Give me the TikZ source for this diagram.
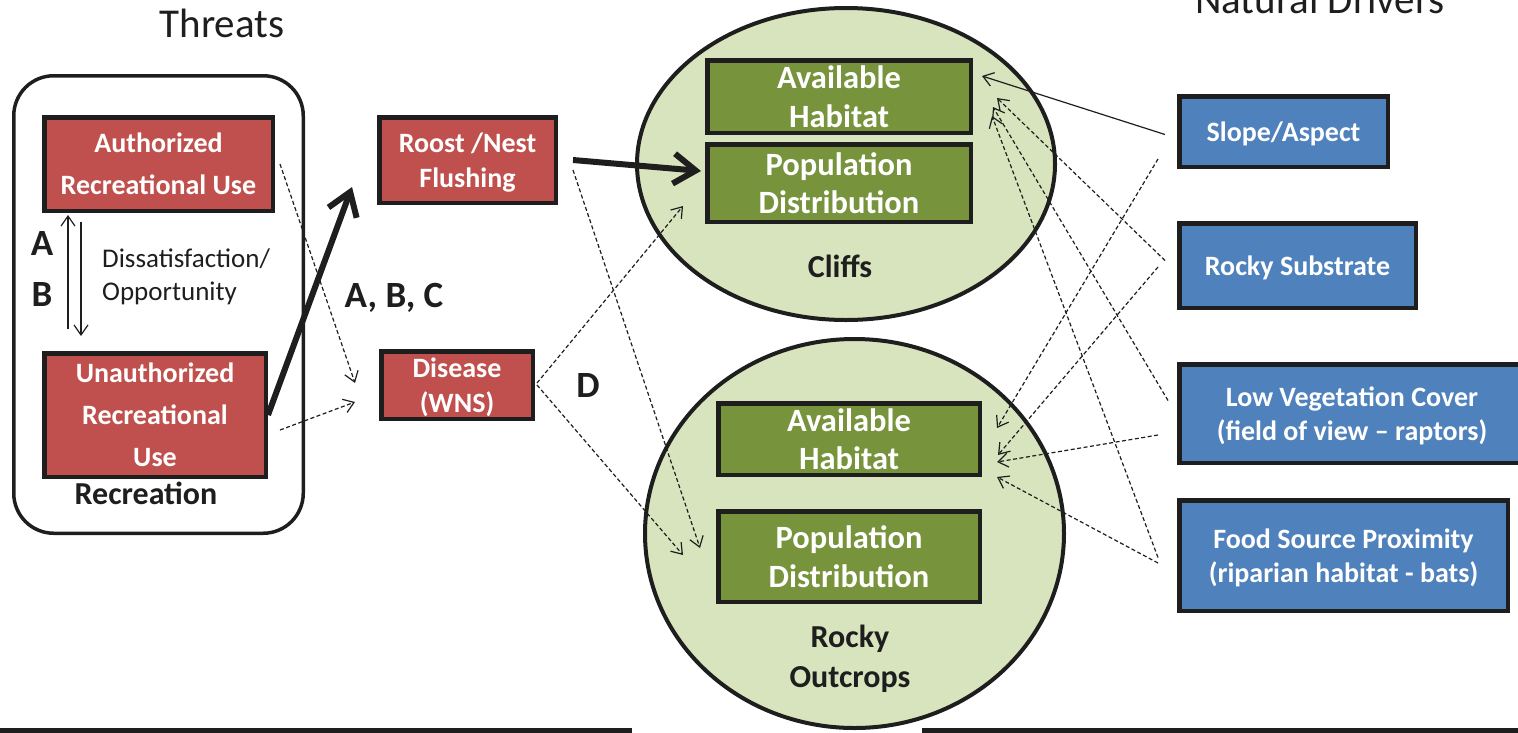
\documentclass[tikz,border=0pt]{standalone}
\usepackage{fontspec}
\setmainfont{Carlito}
\usetikzlibrary{arrows.meta,calc,shapes.geometric}
\definecolor{redbox}{HTML}{C0504D}
\definecolor{greenbox}{HTML}{77933C}
\definecolor{bluebox}{HTML}{4F81BD}
\definecolor{ellfill}{HTML}{D7E4BD}
\definecolor{edge}{HTML}{1E1E1E}
\begin{document}
\begin{tikzpicture}[x=1pt,y=-1pt,
  basebox/.style={draw=edge, line width=4.5pt, inner sep=0pt, align=center, text=white},
  rbox/.style={basebox, fill=redbox, text depth=-3pt, font=\bfseries\fontsize{28}{35}\selectfont},
  gbox/.style={basebox, fill=greenbox, font=\bfseries\fontsize{32.5}{38.5}\selectfont},
  bbox/.style={basebox, fill=bluebox, text depth=-3pt, font=\bfseries\fontsize{28}{34}\selectfont},
  ell/.style={ellipse, draw=edge, fill=ellfill, line width=4pt, inner sep=0pt},
  lbl/.style={inner sep=0pt, text=edge, align=center, font=\bfseries\fontsize{32}{40}\selectfont},
  letter/.style={inner sep=0pt, text=edge, font=\bfseries\fontsize{37}{44}\selectfont},
  title/.style={inner sep=0pt, text=edge, font=\fontsize{41}{48}\selectfont},
  thinarr/.style={draw=edge, line width=1.2pt, -{Straight Barb[length=10pt,width=14pt,line width=1.2pt]}},
  dsharr/.style={thinarr, dash pattern=on 4pt off 2.5pt},
  bigarr/.style={draw=edge, line width=6pt, -{Straight Barb[length=22pt,width=30pt,line width=6pt]}}
]
\clip (0,0) rectangle (1518,732);

% titles
\node[title, anchor=base] (threats) at (222,37) {Threats};
\node[title, anchor=base] (natdrv) at (1320,13) {Natural Drivers};

% recreation group
\node[draw=edge, line width=3.5pt, rounded corners=40pt, minimum width=289.5pt,
      minimum height=457.5pt, inner sep=0pt] (recbox) at (158.5,304.5) {};
\node[rbox, minimum width=228.5pt, minimum height=93.5pt, font=\bfseries\fontsize{28}{42}\selectfont]
  (auth) at (158.5,164) {Authorized\\Recreational Use};
\node[rbox, minimum width=221.5pt, minimum height=123.5pt, font=\bfseries\fontsize{28}{42}\selectfont]
  (unauth) at (155,415) {Unauthorized\\Recreational\\Use};
\node[lbl, anchor=base] (reclbl) at (146,504) {Recreation};
\node[letter, anchor=base] (la) at (42,255) {A};
\node[letter, anchor=base] (lb) at (42,306) {B};
\node[inner sep=0pt, anchor=west, align=left, text=edge, font=\fontsize{27}{33}\selectfont]
  (diss) at (102,276.5) {Dissatisfaction/\\Opportunity};

% threats
\node[rbox, minimum width=176.5pt, minimum height=85.5pt] (roost) at (467.5,160) {Roost /Nest\\Flushing};
\node[rbox, minimum width=151.5pt, minimum height=67.5pt] (disease) at (457,385) {Disease\\(WNS)};
\node[letter, anchor=base] (labc) at (394,307) {A, B, C};
\node[letter, anchor=base] (ld) at (588,397) {D};

% habitats
\node[ell, minimum width=418pt, minimum height=312pt] (cliffs) at (846,164) {};
\node[ell, minimum width=419pt, minimum height=389pt] (rocky) at (854.5,533.5) {};
\node[gbox, minimum width=263.5pt, minimum height=72.5pt] (cah) at (839,96.5) {Available\\Habitat};
\node[gbox, minimum width=263.5pt, minimum height=77.5pt] (cpd) at (839,183) {Population\\Distribution};
\node[gbox, minimum width=261.5pt, minimum height=71.5pt] (rah) at (849,439) {Available\\Habitat};
\node[gbox, minimum width=261.5pt, minimum height=90.5pt] (rpd) at (849,556.5) {Population\\Distribution};
\node[lbl, anchor=base] (cliffslbl) at (840,277) {Cliffs};
\node[lbl] (rocklbl) at (850,659) {Rocky\\Outcrops};

% natural drivers
\node[bbox, minimum width=208.5pt, minimum height=70.5pt] (slope) at (1283.5,131.5) {Slope/Aspect};
\node[bbox, minimum width=236.5pt, minimum height=84.5pt] (rsub) at (1297.5,265.5) {Rocky Substrate};
\node[bbox, minimum width=345.5pt, minimum height=98.5pt] (lveg) at (1352,413.5) {Low Vegetation Cover\\(field of view – raptors)};
\node[bbox, minimum width=328.5pt, minimum height=110.5pt] (food) at (1343.5,555.5) {Food Source Proximity\\(riparian habitat - bats)};

% connectors: recreation
\draw[thinarr] ($(unauth.north west)+(26,-22)$) -- ($(auth.south west)+(26,2)$);
\draw[thinarr] ($(auth.south west)+(39,9)$) -- ($(unauth.north west)+(39,-15)$);
\draw[bigarr] (unauth.east) -- ($(roost.west)+(-25,27)$);
\draw[dsharr] ($(auth.east)+(5,0)$) -- ($(disease.west)+(-24,-2)$);
\draw[dsharr] ($(unauth.east)+(12,15)$) -- ($(disease.west)+(-24,17)$);

% connectors: threats to habitats
\draw[bigarr] ($(roost.east)+(15,0)$) -- ($(cpd.west)+(-4,-12)$);
\draw[dsharr] ($(roost.east)+(15,10)$) -- ($(rpd.west)+(-16,-8.5)$);
\draw[dsharr] ($(disease.east)+(2,-2)$) -- ($(cpd.west)+(-22,23)$);
\draw[dsharr] ($(disease.east)+(2,0)$) -- ($(rpd.west)+(-33,-1.5)$);

% connectors: natural drivers to habitats
\draw[thinarr] ($(slope.west)+(-12,3)$) -- ($(cah.east)+(9,-20.5)$);
\draw[dsharr] ($(rsub.west)+(-12,-5)$) -- ($(cah.east)+(24,1.5)$);
\draw[dsharr] ($(lveg.west)+(-9,-13)$) -- ($(cah.east)+(20,10.5)$);
\draw[dsharr] ($(food.west)+(-19,2)$) -- ($(cah.east)+(19,19.5)$);
\draw[dsharr] ($(slope.west)+(-19,27.5)$) -- ($(rah.east)+(15,-11)$);
\draw[dsharr] ($(rsub.west)+(-19,1.5)$) -- ($(rah.east)+(16,16)$);
\draw[dsharr] ($(lveg.west)+(-19,21.5)$) -- ($(rah.east)+(15,23)$);
\draw[dsharr] ($(food.west)+(-19,7.5)$) -- ($(rah.east)+(15,38)$);

% bottom edges
\draw[edge, line width=5pt] (0,730.5) -- (632,730.5);
\draw[edge, line width=5pt] (922,730.5) -- (1518,730.5);
\end{tikzpicture}
\end{document}
